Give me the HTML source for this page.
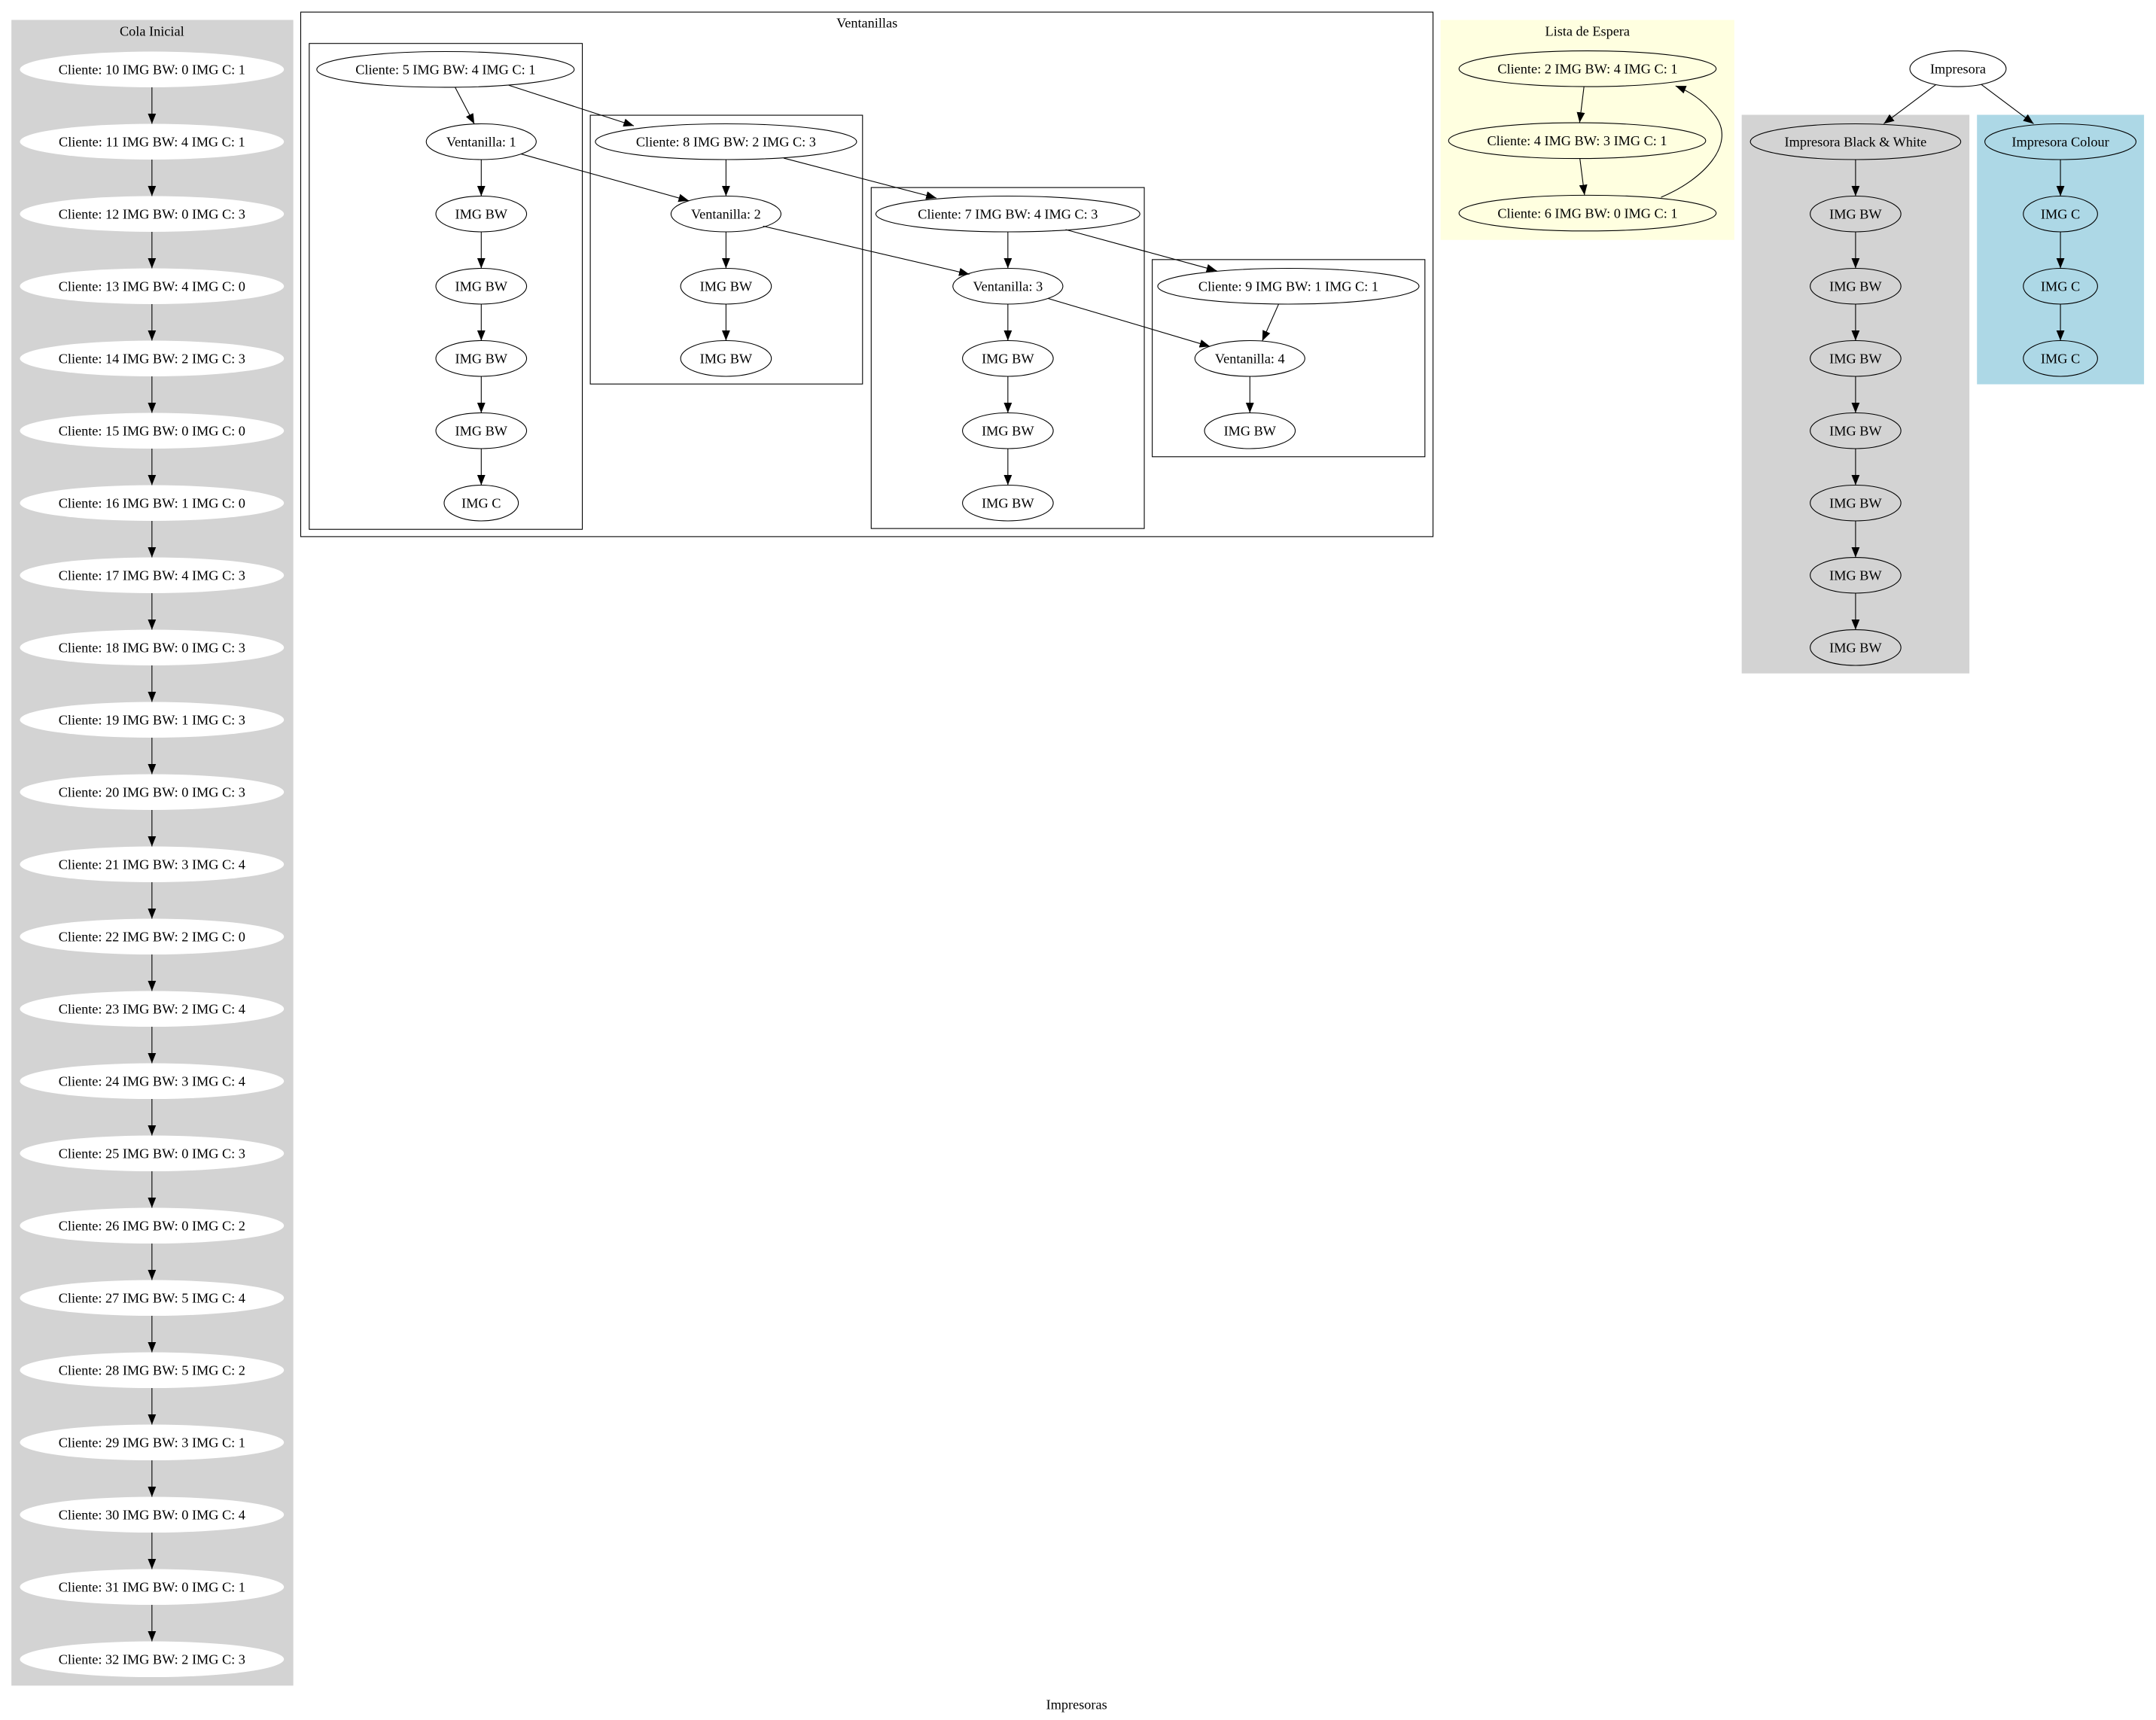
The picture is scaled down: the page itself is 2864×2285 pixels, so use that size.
<!DOCTYPE html>
<html><head><meta charset="utf-8"><style>html,body{margin:0;padding:0;background:#fff}svg{display:block}</style></head>
<body>
<svg width="2864" height="2285" viewBox="0 0 1568 1251" preserveAspectRatio="none" xmlns="http://www.w3.org/2000/svg" font-family="'Liberation Serif', serif" font-size="10">
<defs>
<marker id="a" markerUnits="userSpaceOnUse" markerWidth="8" markerHeight="7" refX="7.5" refY="3" orient="auto"><path d="M0,0 L7.5,3 L0,6 z" fill="#000"/></marker>
</defs>
<rect width="1568" height="1251" fill="#fff"/>
<!-- Cola Inicial -->
<rect x="8.3" y="14.5" width="205" height="1211.5" fill="#d3d3d3"/>
<text x="110.5" y="26" text-anchor="middle">Cola Inicial</text>
<g fill="#fff" stroke="none">
<ellipse cx="110.5" cy="50.5" rx="96" ry="13"/><ellipse cx="110.5" cy="103.06" rx="96" ry="13"/><ellipse cx="110.5" cy="155.62" rx="96" ry="13"/><ellipse cx="110.5" cy="208.18" rx="96" ry="13"/><ellipse cx="110.5" cy="260.74" rx="96" ry="13"/><ellipse cx="110.5" cy="313.3" rx="96" ry="13"/><ellipse cx="110.5" cy="365.86" rx="96" ry="13"/><ellipse cx="110.5" cy="418.42" rx="96" ry="13"/><ellipse cx="110.5" cy="470.98" rx="96" ry="13"/><ellipse cx="110.5" cy="523.54" rx="96" ry="13"/><ellipse cx="110.5" cy="576.1" rx="96" ry="13"/><ellipse cx="110.5" cy="628.66" rx="96" ry="13"/><ellipse cx="110.5" cy="681.22" rx="96" ry="13"/><ellipse cx="110.5" cy="733.78" rx="96" ry="13"/><ellipse cx="110.5" cy="786.34" rx="96" ry="13"/><ellipse cx="110.5" cy="838.9" rx="96" ry="13"/><ellipse cx="110.5" cy="891.46" rx="96" ry="13"/><ellipse cx="110.5" cy="944.02" rx="96" ry="13"/><ellipse cx="110.5" cy="996.58" rx="96" ry="13"/><ellipse cx="110.5" cy="1049.14" rx="96" ry="13"/><ellipse cx="110.5" cy="1101.7" rx="96" ry="13"/><ellipse cx="110.5" cy="1154.26" rx="96" ry="13"/><ellipse cx="110.5" cy="1206.82" rx="96" ry="13"/>
</g>
<g text-anchor="middle">
<text x="110.5" y="54">Cliente: 10 IMG BW: 0 IMG C: 1</text>
<text x="110.5" y="106.56">Cliente: 11 IMG BW: 4 IMG C: 1</text>
<text x="110.5" y="159.12">Cliente: 12 IMG BW: 0 IMG C: 3</text>
<text x="110.5" y="211.68">Cliente: 13 IMG BW: 4 IMG C: 0</text>
<text x="110.5" y="264.24">Cliente: 14 IMG BW: 2 IMG C: 3</text>
<text x="110.5" y="316.8">Cliente: 15 IMG BW: 0 IMG C: 0</text>
<text x="110.5" y="369.36">Cliente: 16 IMG BW: 1 IMG C: 0</text>
<text x="110.5" y="421.92">Cliente: 17 IMG BW: 4 IMG C: 3</text>
<text x="110.5" y="474.48">Cliente: 18 IMG BW: 0 IMG C: 3</text>
<text x="110.5" y="527.04">Cliente: 19 IMG BW: 1 IMG C: 3</text>
<text x="110.5" y="579.6">Cliente: 20 IMG BW: 0 IMG C: 3</text>
<text x="110.5" y="632.16">Cliente: 21 IMG BW: 3 IMG C: 4</text>
<text x="110.5" y="684.72">Cliente: 22 IMG BW: 2 IMG C: 0</text>
<text x="110.5" y="737.28">Cliente: 23 IMG BW: 2 IMG C: 4</text>
<text x="110.5" y="789.84">Cliente: 24 IMG BW: 3 IMG C: 4</text>
<text x="110.5" y="842.4">Cliente: 25 IMG BW: 0 IMG C: 3</text>
<text x="110.5" y="894.96">Cliente: 26 IMG BW: 0 IMG C: 2</text>
<text x="110.5" y="947.52">Cliente: 27 IMG BW: 5 IMG C: 4</text>
<text x="110.5" y="1000.08">Cliente: 28 IMG BW: 5 IMG C: 2</text>
<text x="110.5" y="1052.64">Cliente: 29 IMG BW: 3 IMG C: 1</text>
<text x="110.5" y="1105.2">Cliente: 30 IMG BW: 0 IMG C: 4</text>
<text x="110.5" y="1157.76">Cliente: 31 IMG BW: 0 IMG C: 1</text>
<text x="110.5" y="1210.32">Cliente: 32 IMG BW: 2 IMG C: 3</text>
</g>
<g stroke="#000" stroke-width="0.6" marker-end="url(#a)">
<line x1="110.5" y1="63.5" x2="110.5" y2="90.06"/><line x1="110.5" y1="116.06" x2="110.5" y2="142.62"/><line x1="110.5" y1="168.62" x2="110.5" y2="195.18"/><line x1="110.5" y1="221.18" x2="110.5" y2="247.74"/><line x1="110.5" y1="273.74" x2="110.5" y2="300.3"/><line x1="110.5" y1="326.3" x2="110.5" y2="352.86"/><line x1="110.5" y1="378.86" x2="110.5" y2="405.42"/><line x1="110.5" y1="431.42" x2="110.5" y2="457.98"/><line x1="110.5" y1="483.98" x2="110.5" y2="510.54"/><line x1="110.5" y1="536.54" x2="110.5" y2="563.1"/><line x1="110.5" y1="589.1" x2="110.5" y2="615.66"/><line x1="110.5" y1="641.66" x2="110.5" y2="668.22"/><line x1="110.5" y1="694.22" x2="110.5" y2="720.78"/><line x1="110.5" y1="746.78" x2="110.5" y2="773.34"/><line x1="110.5" y1="799.34" x2="110.5" y2="825.9"/><line x1="110.5" y1="851.9" x2="110.5" y2="878.46"/><line x1="110.5" y1="904.46" x2="110.5" y2="931.02"/><line x1="110.5" y1="957.02" x2="110.5" y2="983.58"/><line x1="110.5" y1="1009.58" x2="110.5" y2="1036.14"/><line x1="110.5" y1="1062.14" x2="110.5" y2="1088.7"/><line x1="110.5" y1="1114.7" x2="110.5" y2="1141.26"/><line x1="110.5" y1="1167.26" x2="110.5" y2="1193.82"/>
</g>

<!-- Ventanillas -->
<g fill="none" stroke="#000" stroke-width="0.6">
<rect x="218.7" y="8.8" width="823.5" height="381.5"/>
<rect x="224.9" y="31.6" width="198.6" height="353.4"/>
<rect x="429.3" y="83.8" width="198" height="195.5"/>
<rect x="633.6" y="136.4" width="198.6" height="248"/>
<rect x="838" y="188.8" width="198.3" height="143.4"/>
</g>
<text x="630.5" y="20" text-anchor="middle">Ventanillas</text>
<g fill="#fff" stroke="#000" stroke-width="0.6">
<ellipse cx="324" cy="50.5" rx="93.6" ry="13"/>
<ellipse cx="350" cy="103.06" rx="40" ry="13"/>
<ellipse cx="350" cy="155.62" rx="33" ry="13"/>
<ellipse cx="350" cy="208.18" rx="33" ry="13"/>
<ellipse cx="350" cy="260.74" rx="33" ry="13"/>
<ellipse cx="350" cy="313.3" rx="33" ry="13"/>
<ellipse cx="350" cy="365.86" rx="27" ry="13"/>
<ellipse cx="528" cy="103.06" rx="95" ry="13"/>
<ellipse cx="528" cy="155.62" rx="40" ry="13"/>
<ellipse cx="528" cy="208.18" rx="33" ry="13"/>
<ellipse cx="528" cy="260.74" rx="33" ry="13"/>
<ellipse cx="733" cy="155.62" rx="96" ry="13"/>
<ellipse cx="733" cy="208.18" rx="40" ry="13"/>
<ellipse cx="733" cy="260.74" rx="33" ry="13"/>
<ellipse cx="733" cy="313.3" rx="33" ry="13"/>
<ellipse cx="733" cy="365.86" rx="33" ry="13"/>
<ellipse cx="937" cy="208.18" rx="95" ry="13"/>
<ellipse cx="909" cy="260.74" rx="40" ry="13"/>
<ellipse cx="909" cy="313.3" rx="33" ry="13"/>
</g>
<g text-anchor="middle">
<text x="324" y="54">Cliente: 5 IMG BW: 4 IMG C: 1</text>
<text x="350" y="106.56">Ventanilla: 1</text>
<text x="350" y="159.12">IMG BW</text>
<text x="350" y="211.68">IMG BW</text>
<text x="350" y="264.24">IMG BW</text>
<text x="350" y="316.8">IMG BW</text>
<text x="350" y="369.36">IMG C</text>
<text x="528" y="106.56">Cliente: 8 IMG BW: 2 IMG C: 3</text>
<text x="528" y="159.12">Ventanilla: 2</text>
<text x="528" y="211.68">IMG BW</text>
<text x="528" y="264.24">IMG BW</text>
<text x="733" y="159.12">Cliente: 7 IMG BW: 4 IMG C: 3</text>
<text x="733" y="211.68">Ventanilla: 3</text>
<text x="733" y="264.24">IMG BW</text>
<text x="733" y="316.8">IMG BW</text>
<text x="733" y="369.36">IMG BW</text>
<text x="937" y="211.68">Cliente: 9 IMG BW: 1 IMG C: 1</text>
<text x="909" y="264.24">Ventanilla: 4</text>
<text x="909" y="316.8">IMG BW</text>
</g>
<g stroke="#000" stroke-width="0.6" marker-end="url(#a)">
<line x1="331" y1="63.5" x2="345" y2="90.2"/>
<line x1="370" y1="62" x2="461" y2="91.5"/>
<line x1="350" y1="116.06" x2="350" y2="142.62"/>
<line x1="350" y1="168.62" x2="350" y2="195.18"/>
<line x1="350" y1="221.18" x2="350" y2="247.74"/>
<line x1="350" y1="273.74" x2="350" y2="300.3"/>
<line x1="350" y1="326.3" x2="350" y2="352.86"/>
<line x1="379" y1="112" x2="501" y2="146"/>
<line x1="528" y1="116.06" x2="528" y2="142.62"/>
<line x1="528" y1="168.62" x2="528" y2="195.18"/>
<line x1="528" y1="221.18" x2="528" y2="247.74"/>
<line x1="570" y1="115" x2="681" y2="144"/>
<line x1="555" y1="164.5" x2="705" y2="199.5"/>
<line x1="733" y1="168.62" x2="733" y2="195.18"/>
<line x1="733" y1="221.18" x2="733" y2="247.74"/>
<line x1="733" y1="273.74" x2="733" y2="300.3"/>
<line x1="733" y1="326.3" x2="733" y2="352.86"/>
<line x1="775" y1="167" x2="885" y2="197"/>
<line x1="762" y1="217" x2="880" y2="252"/>
<line x1="930" y1="221" x2="918" y2="248"/>
<line x1="909" y1="273.74" x2="909" y2="300.3"/>
</g>

<!-- Lista de Espera -->
<rect x="1047.7" y="14.5" width="213.6" height="160" fill="#ffffe0"/>
<text x="1154.5" y="26" text-anchor="middle">Lista de Espera</text>
<g fill="#ffffe0" stroke="#000" stroke-width="0.6">
<ellipse cx="1154.6" cy="50" rx="93.5" ry="13"/>
<ellipse cx="1147" cy="102.3" rx="93.5" ry="13"/>
<ellipse cx="1154.6" cy="155" rx="93.5" ry="13"/>
</g>
<g text-anchor="middle">
<text x="1154.6" y="53.5">Cliente: 2 IMG BW: 4 IMG C: 1</text>
<text x="1147" y="105.8">Cliente: 4 IMG BW: 3 IMG C: 1</text>
<text x="1154.6" y="158.5">Cliente: 6 IMG BW: 0 IMG C: 1</text>
</g>
<g stroke="#000" stroke-width="0.6" fill="none" marker-end="url(#a)">
<line x1="1152" y1="63" x2="1148.8" y2="89.2"/>
<line x1="1149" y1="115.3" x2="1152.4" y2="141.9"/>
<path d="M1208,143.5 C1240,130 1262,105 1248,85 C1240,74 1230,67 1218.6,62.5"/>
</g>

<!-- Impresoras -->
<rect x="1266.7" y="83.5" width="165.6" height="406.3" fill="#d3d3d3"/>
<rect x="1437.8" y="83.5" width="121.5" height="196" fill="#add8e6"/>
<g stroke="#000" stroke-width="0.6">
<ellipse cx="1424" cy="50" rx="35" ry="13" fill="#fff"/>
<g fill="#d3d3d3">
<ellipse cx="1349.5" cy="103.06" rx="76.5" ry="13"/>
<ellipse cx="1349.5" cy="155.62" rx="33" ry="13"/>
<ellipse cx="1349.5" cy="208.18" rx="33" ry="13"/>
<ellipse cx="1349.5" cy="260.74" rx="33" ry="13"/>
<ellipse cx="1349.5" cy="313.3" rx="33" ry="13"/>
<ellipse cx="1349.5" cy="365.86" rx="33" ry="13"/>
<ellipse cx="1349.5" cy="418.42" rx="33" ry="13"/>
<ellipse cx="1349.5" cy="470.98" rx="33" ry="13"/>
</g>
<g fill="#add8e6">
<ellipse cx="1498.5" cy="103.06" rx="55" ry="13"/>
<ellipse cx="1498.5" cy="155.62" rx="27" ry="13"/>
<ellipse cx="1498.5" cy="208.18" rx="27" ry="13"/>
<ellipse cx="1498.5" cy="260.74" rx="27" ry="13"/>
</g>
</g>
<g text-anchor="middle">
<text x="1424" y="53.5">Impresora</text>
<text x="1349.5" y="106.56">Impresora Black &amp; White</text>
<text x="1349.5" y="159.12">IMG BW</text>
<text x="1349.5" y="211.68">IMG BW</text>
<text x="1349.5" y="264.24">IMG BW</text>
<text x="1349.5" y="316.8">IMG BW</text>
<text x="1349.5" y="369.36">IMG BW</text>
<text x="1349.5" y="421.92">IMG BW</text>
<text x="1349.5" y="474.48">IMG BW</text>
<text x="1498.5" y="106.56">Impresora Colour</text>
<text x="1498.5" y="159.12">IMG C</text>
<text x="1498.5" y="211.68">IMG C</text>
<text x="1498.5" y="264.24">IMG C</text>
<text x="783" y="1243">Impresoras</text>
</g>
<g stroke="#000" stroke-width="0.6" marker-end="url(#a)">
<line x1="1408" y1="61.5" x2="1370" y2="90"/>
<line x1="1441" y1="61.5" x2="1479" y2="90"/>
<line x1="1349.5" y1="116.06" x2="1349.5" y2="142.62"/>
<line x1="1349.5" y1="168.62" x2="1349.5" y2="195.18"/>
<line x1="1349.5" y1="221.18" x2="1349.5" y2="247.74"/>
<line x1="1349.5" y1="273.74" x2="1349.5" y2="300.3"/>
<line x1="1349.5" y1="326.3" x2="1349.5" y2="352.86"/>
<line x1="1349.5" y1="378.86" x2="1349.5" y2="405.42"/>
<line x1="1349.5" y1="431.42" x2="1349.5" y2="457.98"/>
<line x1="1498.5" y1="116.06" x2="1498.5" y2="142.62"/>
<line x1="1498.5" y1="168.62" x2="1498.5" y2="195.18"/>
<line x1="1498.5" y1="221.18" x2="1498.5" y2="247.74"/>
</g>
</svg>
</body></html>
